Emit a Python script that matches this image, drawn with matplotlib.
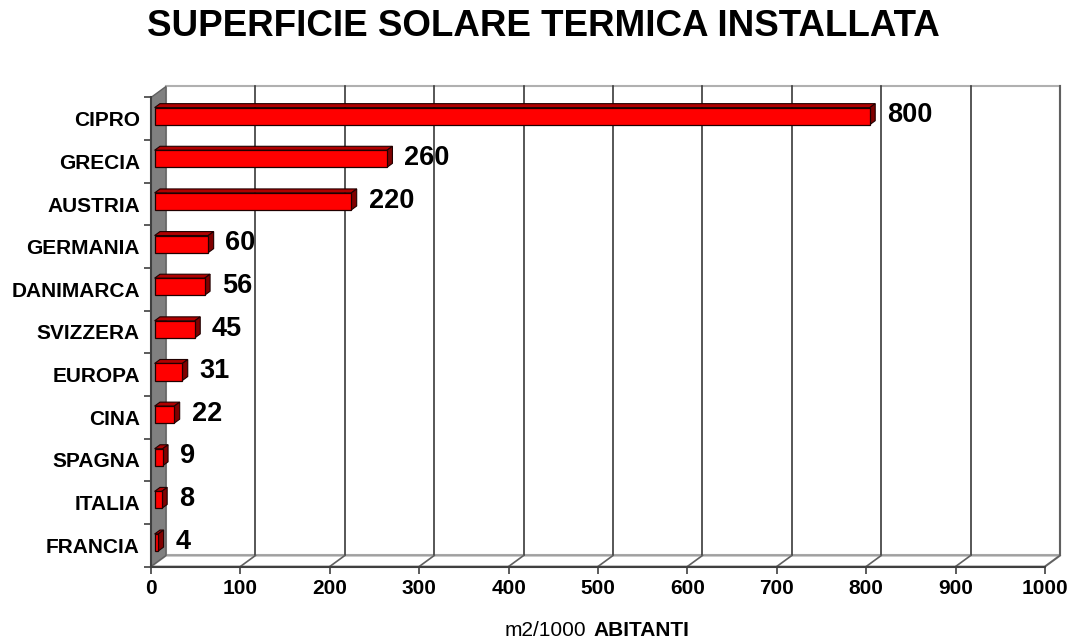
import numpy as np
import matplotlib.pyplot as plt
from matplotlib.patches import Polygon

# data
paesi = ['CIPRO', 'GRECIA', 'AUSTRIA', 'GERMANIA', 'DANIMARCA', 'SVIZZERA',
         'EUROPA', 'CINA', 'SPAGNA', 'ITALIA', 'FRANCIA']
valori = [800, 260, 220, 60, 56, 45, 31, 22, 9, 8, 4]
xticks = [0, 100, 200, 300, 400, 500, 600, 700, 800, 900, 1000]

plt.rcParams['font.family'] = ['Liberation Sans', 'DejaVu Sans']

W, H, dpi = 1072, 642, 100
n = len(paesi)
xmax = 1000
# depth of the 3d box (data units)
DX = 16.8
DY = 0.258
px_per_unit = 0.894
px_per_cat = 42.64

fig = plt.figure(figsize=(W / dpi, H / dpi), dpi=dpi)
ax_left = 151
ax_bottom = 75.5
ax_w = (xmax + DX) * px_per_unit
ax_h = (n + DY) * px_per_cat
ax = fig.add_axes([ax_left / W, ax_bottom / H, ax_w / W, ax_h / H])
ax.set_xlim(0, xmax + DX)
ax.set_ylim(0, n + DY)
for s in ax.spines.values():
    s.set_visible(False)

grid_col = '#3a3a3a'
wall_col = '#808080'

# back wall
ax.add_patch(Polygon([(DX, DY), (xmax + DX, DY), (xmax + DX, n + DY), (DX, n + DY)],
                     closed=True, facecolor='white', edgecolor='#b0b0b0', lw=1.5,
                     zorder=1, clip_on=False))
# floor
ax.add_patch(Polygon([(0, 0), (xmax, 0), (xmax + DX, DY), (DX, DY)], closed=True,
                     facecolor='white', edgecolor='#a0a0a0', lw=1.5, zorder=1,
                     clip_on=False))
# left wall
ax.add_patch(Polygon([(0, 0), (DX, DY), (DX, n + DY), (0, n)], closed=True,
                     facecolor=wall_col, edgecolor='#606060', lw=1, zorder=2,
                     clip_on=False))
# gridlines on back wall and floor
for v in xticks[1:]:
    ax.plot([v + DX, v + DX], [DY, n + DY], color=grid_col, lw=1.2, zorder=1.5,
            clip_on=False)
    ax.plot([v, v + DX], [0, DY], color='#606060', lw=1.2, zorder=1.5, clip_on=False)
ax.plot([xmax + DX, xmax + DX], [DY, n + DY], color='#606060', lw=1.5, zorder=1.6,
        clip_on=False)

# front axis lines
ax.plot([0, xmax], [0, 0], color='#404040', lw=1.5, zorder=3, clip_on=False)
ax.plot([0, 0], [0, n], color='#404040', lw=1.5, zorder=3, clip_on=False)

# bars
f0, f1 = 0.24, 0.6
half = 0.2
for i, (p, v) in enumerate(zip(paesi, valori)):
    yc = n - i - 0.5
    x0, y0 = f0 * DX, yc + f0 * DY
    ddx, ddy = (f1 - f0) * DX, (f1 - f0) * DY
    front = [(x0, y0 - half), (x0 + v, y0 - half), (x0 + v, y0 + half), (x0, y0 + half)]
    top = [(x0, y0 + half), (x0 + v, y0 + half), (x0 + v + ddx, y0 + half + ddy),
           (x0 + ddx, y0 + half + ddy)]
    side = [(x0 + v, y0 - half), (x0 + v + ddx, y0 - half + ddy),
            (x0 + v + ddx, y0 + half + ddy), (x0 + v, y0 + half)]
    ax.add_patch(Polygon(top, closed=True, facecolor='#b00000', edgecolor='#200000',
                         lw=0.8, zorder=4))
    ax.add_patch(Polygon(side, closed=True, facecolor='#800000', edgecolor='#200000',
                         lw=0.8, zorder=4))
    ax.add_patch(Polygon(front, closed=True, facecolor='#ff0000', edgecolor='#200000',
                         lw=0.9, zorder=5))
    ax.annotate(str(v), xy=(v, yc), xytext=(15, 2.5), textcoords='offset points',
                ha='left', va='center', fontsize=19.5, fontweight='bold', zorder=6)

# ticks
ax.set_xticks(xticks)
ax.set_xticklabels([str(t) for t in xticks], fontsize=15, fontweight='bold')
ax.tick_params(axis='x', direction='out', length=5, width=1.2, color='#404040', pad=4)
ax.set_yticks(np.arange(n) + 0.5)
ax.set_yticklabels(paesi[::-1], fontsize=15, fontweight='bold')
ax.tick_params(axis='y', which='major', length=0, pad=8)
ax.set_yticks(np.arange(n + 1), minor=True)
ax.tick_params(axis='y', which='minor', direction='out', length=5, width=1.2,
               color='#404040')

# titles
fig.text(543 / W, 1 - 27 / H, 'SUPERFICIE SOLARE TERMICA INSTALLATA', ha='center',
         va='center', fontsize=26.5, fontweight='bold')
fig.text(586 / W, 1 - 630 / H, 'm2/1000', ha='right', va='center', fontsize=15)
fig.text(593 / W, 1 - 630 / H, 'ABITANTI', ha='left', va='center', fontsize=15,
         fontweight='bold')

fig.savefig('out.png', dpi=dpi)
